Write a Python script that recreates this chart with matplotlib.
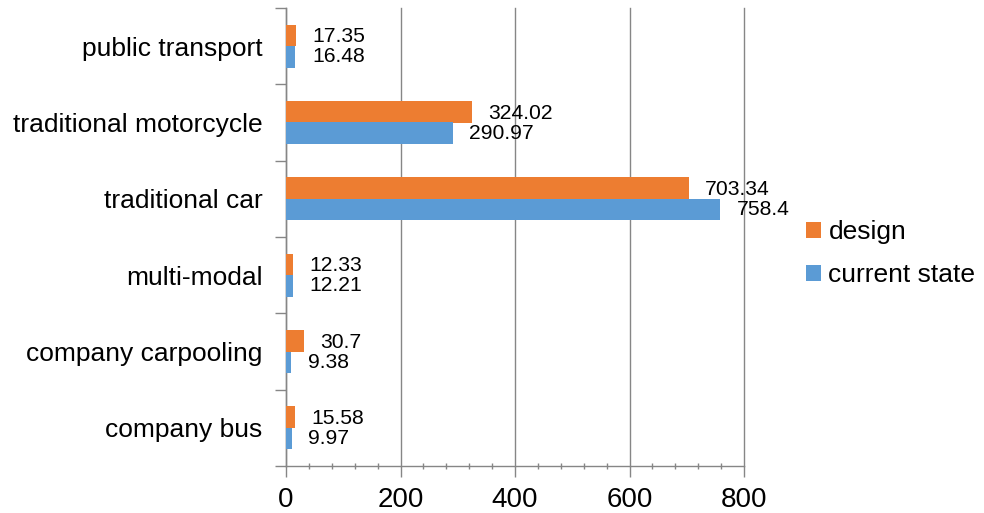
import matplotlib
matplotlib.use("Agg")
import matplotlib.pyplot as plt
import numpy as np
from matplotlib.ticker import MultipleLocator

plt.rcParams['font.family'] = ['Liberation Sans', 'DejaVu Sans']

categories = ["company bus", "company carpooling", "multi-modal",
              "traditional car", "traditional motorcycle", "public transport"]
design = [15.58, 30.7, 12.33, 703.34, 324.02, 17.35]
current_state = [9.97, 9.38, 12.21, 758.4, 290.97, 16.48]
design_labels = ["15.58", "30.7", "12.33", "703.34", "324.02", "17.35"]
current_labels = ["9.97", "9.38", "12.21", "758.4", "290.97", "16.48"]

orange = "#ED7D31"
blue = "#5B9BD5"
grid_c = "#868686"

fig = plt.figure(figsize=(9.84, 5.13), dpi=100)
ax = fig.add_axes([286/984, 1 - 466/513, (744-286)/984, (466-8)/513])

y = np.arange(len(categories))
h = 0.28
ax.barh(y + h/2, design, height=h, color=orange, label="design", zorder=3)
ax.barh(y - h/2, current_state, height=h, color=blue, label="current state", zorder=3)

for yi, v, t in zip(y, design, design_labels):
    ax.annotate(t, (v, yi + h/2), xytext=(12, -1), textcoords="offset points",
                ha="left", va="center", fontsize=15.2, color="black")
for yi, v, t in zip(y, current_state, current_labels):
    ax.annotate(t, (v, yi - h/2), xytext=(12, 0), textcoords="offset points",
                ha="left", va="center", fontsize=15.2, color="black")

ax.set_xlim(0, 800)
ax.set_ylim(-0.5, len(categories) - 0.5)
ax.xaxis.set_major_locator(MultipleLocator(200))
ax.xaxis.set_minor_locator(MultipleLocator(40))
ax.grid(axis="x", which="major", color=grid_c, linewidth=1, zorder=0)
for gl in ax.get_xgridlines():
    gl.set_clip_on(False)

# Category labels centered between boundary ticks
ax.set_yticks(np.arange(-0.5, len(categories), 1.0))
ax.set_yticklabels([])
ax.set_yticks(y, minor=True)
ax.set_yticklabels(categories, minor=True, fontsize=19)
ax.tick_params(axis="y", which="minor", length=0, pad=17)
ax.tick_params(axis="y", which="major", length=8, color=grid_c, width=1)

ax.tick_params(axis="x", which="major", length=8, color=grid_c, width=1,
               labelsize=20, pad=7)
ax.tick_params(axis="x", which="minor", length=4, direction="inout",
               color=grid_c, width=1)

for side in ["top", "right"]:
    ax.spines[side].set_visible(False)
for side in ["left", "bottom"]:
    ax.spines[side].set_color(grid_c)
    ax.spines[side].set_linewidth(1)

leg = fig.legend(loc="upper left", bbox_to_anchor=(806/984, 1 - 220/513),
                 frameon=False, fontsize=19, handlelength=0.55, handleheight=0.55,
                 handletextpad=0.3, labelspacing=0.72, borderaxespad=0,
                 borderpad=0)

fig.savefig("out.png", dpi=100)
